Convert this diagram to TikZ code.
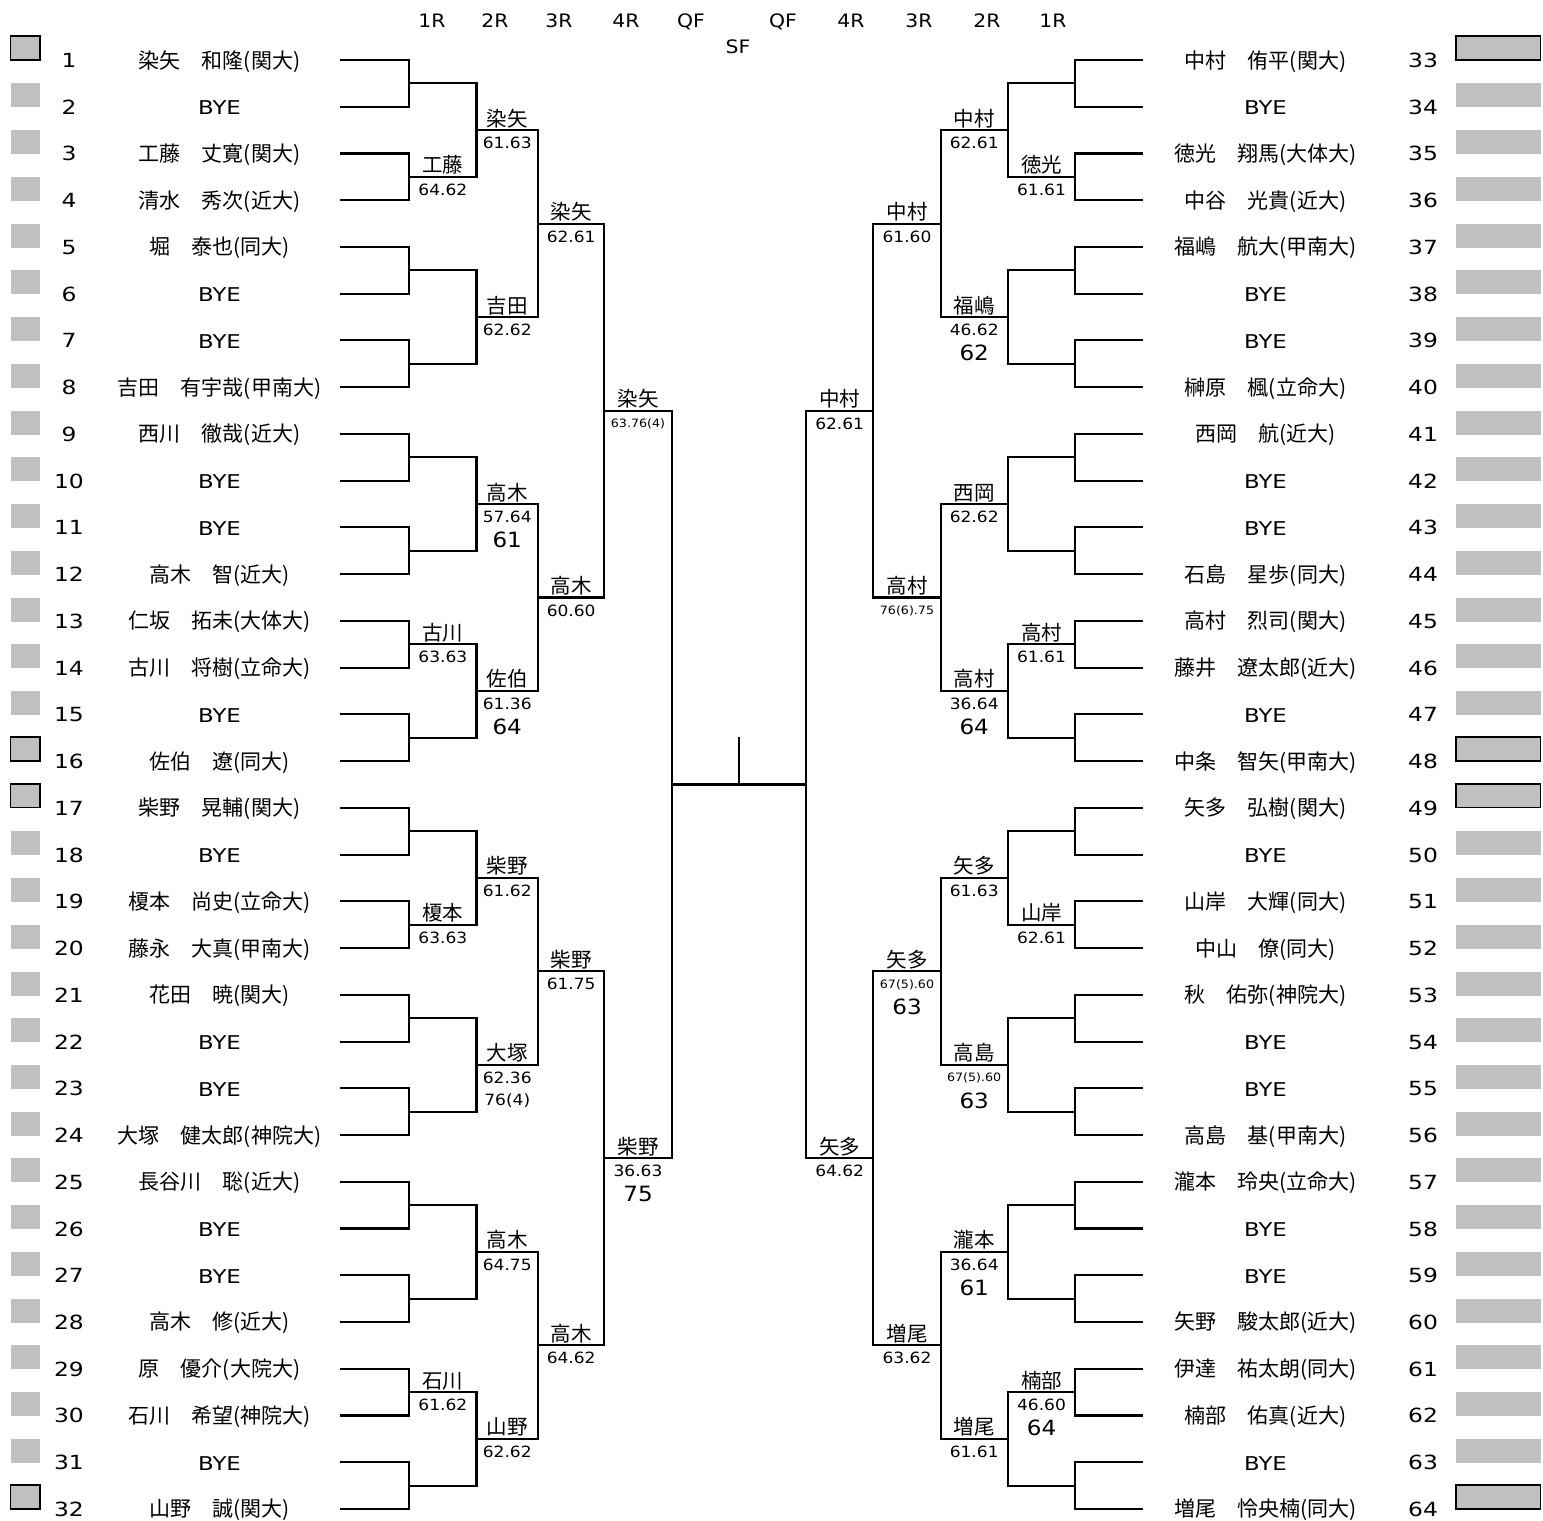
\documentclass[tikz,border=0pt]{standalone}
\usepackage{fontspec}
\usetikzlibrary{calc}
\newfontfamily\jp{Noto Sans CJK JP}
\newfontfamily\nf[FakeStretch=1.1]{DejaVu Sans}
\newfontfamily\wf[FakeStretch=1.2]{DejaVu Sans}
\definecolor{boxgray}{RGB}{192,192,192}
\tikzset{
 wn/.style={anchor=base, inner sep=0pt, font=\jp\fontsize{20.5}{21}\selectfont},
 ws/.style={anchor=base, inner sep=0pt, font=\nf\fontsize{15.5}{16}\selectfont},
 wsm/.style={anchor=base, inner sep=0pt, font=\nf\fontsize{11.5}{12}\selectfont},
 wbig/.style={anchor=base, inner sep=0pt, font=\nf\fontsize{21}{21}\selectfont},
 pname/.style={anchor=base, inner sep=0pt, font=\jp\fontsize{21}{21}\selectfont},
 pbye/.style={anchor=base, inner sep=0pt, font=\wf\fontsize{19}{19}\selectfont},
 pnum/.style={anchor=base, inner sep=0pt, font=\wf\fontsize{19.5}{20}\selectfont},
 hdr/.style={anchor=base, inner sep=0pt, font=\nf\fontsize{18.5}{19}\selectfont},
 gbox/.style={fill=boxgray, draw=none},
 gboxb/.style={fill=boxgray, draw=black, line width=1.7pt},
}
\newcommand\W[3]{%
  \coordinate (#1-c) at ($(#1-m)!.5!(#1-e)$);
  \node[wn] (#1-w) at ([yshift=4pt]#1-c) {#2};
  \node[ws] (#1-s) at ([yshift=-18.5pt]#1-c) {#3};}
\newcommand\Wsm[3]{%
  \coordinate (#1-c) at ($(#1-m)!.5!(#1-e)$);
  \node[wn] (#1-w) at ([yshift=4pt]#1-c) {#2};
  \node[wsm] (#1-s) at ([yshift=-17pt]#1-c) {#3};}
\newcommand\Wbig[2]{\node[wbig] (#1-x) at ([yshift=-43.5pt]#1-c) {#2};}
\newcommand\Wtwo[2]{\node[ws] (#1-x) at ([yshift=-41pt]#1-c) {#2};}
\begin{document}
\begin{tikzpicture}[x=1pt,y=-1pt,line width=2.1pt,line cap=rect]
\useasboundingbox (0,0) rectangle (1543,1521);

% headers
\node[hdr] (h1) at (432,27) {1R};
\node[hdr] (h2) at (495,27) {2R};
\node[hdr] (h3) at (559,27) {3R};
\node[hdr] (h4) at (626,27) {4R};
\node[hdr] (h5) at (691,27) {QF};
\node[hdr] (h6) at (738,53) {SF};
\node[hdr] (h7) at (783,27) {QF};
\node[hdr] (h8) at (851,27) {4R};
\node[hdr] (h9) at (919,27) {3R};
\node[hdr] (h10) at (987,27) {2R};
\node[hdr] (h11) at (1053,27) {1R};

% seed boxes and numbers
\foreach \i in {1,...,32}{
  \pgfmathsetmacro\yy{60+(\i-1)*46.74}
  \pgfmathtruncatemacro\bd{or(or(\i==1,\i==16),or(\i==17,\i==32))}
  \pgfmathtruncatemacro\j{\i+32}
  \ifnum\bd=1
    \draw[gboxb] (10.5,\yy-24) rectangle (40,\yy-0.3);
    \draw[gboxb] (1456.3,\yy-24) rectangle (1540.5,\yy-0.3);
  \else
    \fill[gbox] (11,\yy-23.3) rectangle (40.3,\yy+0.7);
    \fill[gbox] (1455.5,\yy-23.3) rectangle (1541,\yy+0.7);
  \fi
  \node[pnum] (num\i) at (69,\yy+7.5) {\i};
  \node[pnum] (num\j) at (1423,\yy+7.5) {\j};
}

% left players
\foreach \i/\s/\t in {1/pname/染矢　和隆(関大),2/pbye/BYE,3/pname/工藤　丈寛(関大),4/pname/清水　秀次(近大),
 5/pname/堀　泰也(同大),6/pbye/BYE,7/pbye/BYE,8/pname/吉田　有宇哉(甲南大),
 9/pname/西川　徹哉(近大),10/pbye/BYE,11/pbye/BYE,12/pname/高木　智(近大),
 13/pname/仁坂　拓未(大体大),14/pname/古川　将樹(立命大),15/pbye/BYE,16/pname/佐伯　遼(同大),
 17/pname/柴野　晃輔(関大),18/pbye/BYE,19/pname/榎本　尚史(立命大),20/pname/藤永　大真(甲南大),
 21/pname/花田　暁(関大),22/pbye/BYE,23/pbye/BYE,24/pname/大塚　健太郎(神院大),
 25/pname/長谷川　聡(近大),26/pbye/BYE,27/pbye/BYE,28/pname/高木　修(近大),
 29/pname/原　優介(大院大),30/pname/石川　希望(神院大),31/pbye/BYE,32/pname/山野　誠(関大)}{
  \pgfmathsetmacro\yy{60+(\i-1)*46.74}
  \node[\s] (pl\i) at (219.5,\yy+8) {\t};
}
% right players
\foreach \i/\s/\t in {1/pname/中村　侑平(関大),2/pbye/BYE,3/pname/徳光　翔馬(大体大),4/pname/中谷　光貴(近大),
 5/pname/福嶋　航大(甲南大),6/pbye/BYE,7/pbye/BYE,8/pname/榊原　楓(立命大),
 9/pname/西岡　航(近大),10/pbye/BYE,11/pbye/BYE,12/pname/石島　星歩(同大),
 13/pname/高村　烈司(関大),14/pname/藤井　遼太郎(近大),15/pbye/BYE,16/pname/中条　智矢(甲南大),
 17/pname/矢多　弘樹(関大),18/pbye/BYE,19/pname/山岸　大輝(同大),20/pname/中山　僚(同大),
 21/pname/秋　佑弥(神院大),22/pbye/BYE,23/pbye/BYE,24/pname/高島　基(甲南大),
 25/pname/瀧本　玲央(立命大),26/pbye/BYE,27/pbye/BYE,28/pname/矢野　駿太郎(近大),
 29/pname/伊達　祐太朗(同大),30/pname/楠部　佑真(近大),31/pbye/BYE,32/pname/増尾　怜央楠(同大)}{
  \pgfmathsetmacro\yy{60+(\i-1)*46.74}
  \node[\s] (pr\i) at (1265.5,\yy+8) {\t};
}

% bracket lines
\foreach \sd/\xa/\xb/\xc/\xd/\xe/\xf/\xg in {l/341.5/409.3/476.5/538/604.3/671.7/738.7,r/1142/1075.3/1007.7/940.7/873.3/806/738.7}{
  \foreach \i in {1,...,32}{
    \pgfmathsetmacro\yy{60+(\i-1)*46.74}
    \coordinate (\sd0-\i-s) at (\xa,\yy);
    \coordinate (\sd0-\i-e) at (\xb,\yy);
    \draw (\sd0-\i-s) -- (\sd0-\i-e);
  }
  \foreach \k in {1,...,5}{
    \pgfmathsetmacro\xx{{\xa,\xb,\xc,\xd,\xe,\xf,\xg}[\k]}
    \pgfmathsetmacro\xn{{\xa,\xb,\xc,\xd,\xe,\xf,\xg}[\k+1]}
    \pgfmathtruncatemacro\s{2^\k}
    \pgfmathtruncatemacro\n{32/\s-1}
    \foreach \g in {0,...,\n}{
      \pgfmathsetmacro\yt{60+(\g*\s+\s/4-0.5)*46.74}
      \pgfmathsetmacro\yb{60+(\g*\s+3*\s/4-0.5)*46.74}
      \pgfmathsetmacro\ym{60+(\g*\s+\s/2-0.5)*46.74}
      \coordinate (\sd\k-\g-t) at (\xx,\yt);
      \coordinate (\sd\k-\g-b) at (\xx,\yb);
      \coordinate (\sd\k-\g-m) at (\xx,\ym);
      \coordinate (\sd\k-\g-e) at (\xn,\ym);
      \draw (\sd\k-\g-t) -- (\sd\k-\g-b);
      \draw (\sd\k-\g-m) -- (\sd\k-\g-e);
    }
  }
}
\coordinate (ctop) at (738.7,738);
\draw (ctop) -- (l5-0-e);

% left results
\W{l1-1}{工藤}{64.62}
\W{l1-6}{古川}{63.63}
\W{l1-9}{榎本}{63.63}
\W{l1-14}{石川}{61.62}
\W{l2-0}{染矢}{61.63}
\W{l2-1}{吉田}{62.62}
\W{l2-2}{高木}{57.64}\Wbig{l2-2}{61}
\W{l2-3}{佐伯}{61.36}\Wbig{l2-3}{64}
\W{l2-4}{柴野}{61.62}
\W{l2-5}{大塚}{62.36}\Wtwo{l2-5}{76(4)}
\W{l2-6}{高木}{64.75}
\W{l2-7}{山野}{62.62}
\W{l3-0}{染矢}{62.61}
\W{l3-1}{高木}{60.60}
\W{l3-2}{柴野}{61.75}
\W{l3-3}{高木}{64.62}
\Wsm{l4-0}{染矢}{63.76(4)}
\W{l4-1}{柴野}{36.63}\Wbig{l4-1}{75}

% right results
\W{r1-1}{徳光}{61.61}
\W{r1-6}{高村}{61.61}
\W{r1-9}{山岸}{62.61}
\W{r1-14}{楠部}{46.60}\Wbig{r1-14}{64}
\W{r2-0}{中村}{62.61}
\W{r2-1}{福嶋}{46.62}\Wbig{r2-1}{62}
\W{r2-2}{西岡}{62.62}
\W{r2-3}{高村}{36.64}\Wbig{r2-3}{64}
\W{r2-4}{矢多}{61.63}
\Wsm{r2-5}{高島}{67(5).60}\Wbig{r2-5}{63}
\W{r2-6}{瀧本}{36.64}\Wbig{r2-6}{61}
\W{r2-7}{増尾}{61.61}
\W{r3-0}{中村}{61.60}
\Wsm{r3-1}{高村}{76(6).75}
\Wsm{r3-2}{矢多}{67(5).60}\Wbig{r3-2}{63}
\W{r3-3}{増尾}{63.62}
\W{r4-0}{中村}{62.61}
\W{r4-1}{矢多}{64.62}
\end{tikzpicture}
\end{document}
